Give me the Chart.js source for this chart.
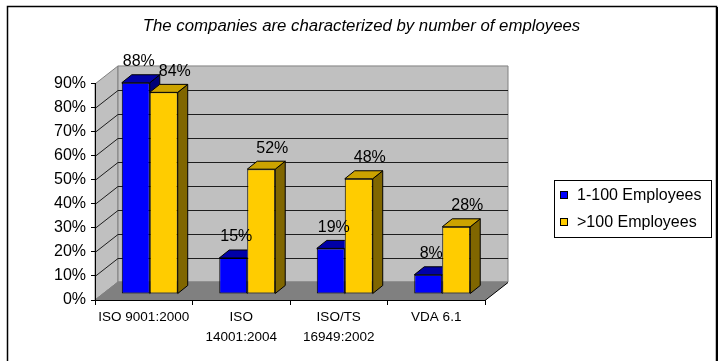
<!DOCTYPE html>
<html>
<head>
<meta charset="utf-8">
<script src="https://cdn.jsdelivr.net/npm/chart.js@4.4.0/dist/chart.umd.min.js"></script>
<style>
  html, body { margin: 0; background: #fff; }
</style>
</head>
<body>
<canvas id="chart" width="723" height="361"></canvas>
<script>
const standards = [['ISO 9001:2000'], ['ISO', '14001:2004'], ['ISO/TS', '16949:2002'], ['VDA 6.1']];
const smallFirms = [88, 15, 19, 8];
const largeFirms = [84, 52, 48, 28];
const seriesNames = ['1-100 Employees', '>100 Employees'];
const yMax = 90;
const yStep = 10;

const palette = [
    { front: '#0000ff', top: '#0000a8', side: '#000078', labelDx: 3 },
    { front: '#ffcc00', top: '#cca300', side: '#806600', labelDx: 11 }
];

const FONT = 'Liberation Sans, Arial, sans-serif';
const WALL = { x: 23, y: -18 };      // depth of the box walls
const SHIFT = { x: 6, y: -6 };       // bars stand a little behind the front edge
const BAR = { x: 10, y: -8 };        // depth of each bar

function poly(ctx, pts, fill, stroke) {
    ctx.beginPath();
    pts.forEach(([x, y], i) => i ? ctx.lineTo(x, y) : ctx.moveTo(x, y));
    ctx.closePath();
    if (fill) { ctx.fillStyle = fill; ctx.fill(); }
    if (stroke) { ctx.strokeStyle = stroke; ctx.stroke(); }
}

function line(ctx, x1, y1, x2, y2) {
    ctx.beginPath();
    ctx.moveTo(x1, y1);
    ctx.lineTo(x2, y2);
    ctx.stroke();
}

// walls, floor, frame, bar faces, value labels and legend
const box3d = {
    id: 'box3d',
    beforeDraw(chart) {
        const { ctx, chartArea: a, scales: { y } } = chart;
        const L = a.left, R = a.right;
        const B = y.getPixelForValue(0), T = y.getPixelForValue(yMax);
        const dx = WALL.x, dy = WALL.y;
        ctx.save();
        ctx.fillStyle = '#fff';
        ctx.fillRect(0, 0, chart.width, chart.height);
        ctx.strokeStyle = '#000';
        ctx.lineWidth = 1.5;
        ctx.strokeRect(7.5, 6.5, 709, 400);
        ctx.lineWidth = 1;
        line(ctx, 717.5, 7, 717.5, chart.height);

        poly(ctx, [[L, B], [L, T], [L + dx, T + dy], [L + dx, B + dy]], '#c0c0c0', '#808080');
        poly(ctx, [[L + dx, T + dy], [R + dx, T + dy], [R + dx, B + dy], [L + dx, B + dy]], '#c0c0c0', '#808080');
        poly(ctx, [[L, B], [L + dx, B + dy], [R + dx, B + dy], [R, B]], '#808080', '#808080');

        ctx.strokeStyle = '#1e1e1e';
        y.ticks.forEach(t => {
            if (t.value <= 0 || t.value >= yMax) return;
            const p = Math.round(y.getPixelForValue(t.value)) + 0.5;
            line(ctx, L, p, L + dx, p + dy);
            line(ctx, L + dx, p + dy, R + dx, p + dy);
        });
        ctx.strokeStyle = '#000';
        line(ctx, R, B + 0.5, R + dx, B + dy + 0.5);
        ctx.restore();
    },
    beforeDatasetsDraw(chart) {
        chart.ctx.save();
        chart.ctx.translate(SHIFT.x, SHIFT.y);
    },
    afterDatasetsDraw(chart) {
        const ctx = chart.ctx;
        const metas = chart.data.datasets.map((d, i) => chart.getDatasetMeta(i));
        ctx.lineWidth = 1;
        metas.forEach((meta, di) => {
            meta.data.forEach((bar, j) => {
                const { x, y, base, width } = bar.getProps(['x', 'y', 'base', 'width'], true);
                const l = x - width / 2, r = x + width / 2;
                ctx.save();
                const next = metas[di + 1] && metas[di + 1].data[j];
                if (next) {
                    // the neighbouring bar hides this bar's side face
                    const n = next.getProps(['x', 'y', 'base', 'width'], true);
                    ctx.beginPath();
                    ctx.rect(-50, -50, chart.width + 100, chart.height + 100);
                    ctx.rect(n.x - n.width / 2, n.y, n.width, n.base - n.y);
                    ctx.clip('evenodd');
                }
                poly(ctx, [[r, y], [r + BAR.x, y + BAR.y], [r + BAR.x, base + BAR.y], [r, base]], palette[di].side, '#000');
                poly(ctx, [[l, y], [l + BAR.x, y + BAR.y], [r + BAR.x, y + BAR.y], [r, y]], palette[di].top, '#000');
                ctx.restore();
            });
        });
        ctx.restore();

        ctx.save();
        ctx.font = '16px ' + FONT;
        ctx.fillStyle = '#000';
        ctx.textAlign = 'center';
        ctx.textBaseline = 'middle';
        metas.forEach((meta, di) => {
            meta.data.forEach((bar, j) => {
                const v = chart.data.datasets[di].data[j];
                ctx.fillText(v + '%', bar.x + SHIFT.x + palette[di].labelDx, bar.y + SHIFT.y - 21);
            });
        });
        ctx.restore();
    },
    afterDraw(chart) {
        const ctx = chart.ctx;
        ctx.save();
        ctx.fillStyle = '#fff';
        ctx.strokeStyle = '#000';
        ctx.lineWidth = 1;
        ctx.fillRect(554.5, 180.5, 157, 57);
        ctx.strokeRect(554.5, 180.5, 157, 57);
        ctx.font = '16px ' + FONT;
        ctx.textBaseline = 'middle';
        chart.data.datasets.forEach((d, i) => {
            const cy = 195 + i * 27;
            ctx.fillStyle = d.backgroundColor;
            ctx.fillRect(560.5, cy - 3.5, 7, 7);
            ctx.strokeRect(560.5, cy - 3.5, 7, 7);
            ctx.fillStyle = '#000';
            ctx.fillText(d.label, 577, cy + 0.5);
        });
        ctx.restore();
    }
};

Chart.defaults.color = '#000';
Chart.defaults.font.family = FONT;

new Chart(document.getElementById('chart'), {
    type: 'bar',
    data: {
        labels: standards,
        datasets: [
            { label: seriesNames[0], data: smallFirms, backgroundColor: palette[0].front },
            { label: seriesNames[1], data: largeFirms, backgroundColor: palette[1].front }
        ]
    },
    options: {
        responsive: false,
        animation: false,
        layout: { padding: 0 },
        datasets: {
            bar: {
                borderColor: '#000',
                borderWidth: 1,
                borderSkipped: false,
                categoryPercentage: 0.574,
                barPercentage: 1,
                clip: false
            }
        },
        plugins: {
            legend: { display: false },
            tooltip: { enabled: false },
            title: {
                display: true,
                text: 'The companies are characterized by number of employees',
                font: { size: 16.8, style: 'italic', weight: 'normal' },
                color: '#000',
                padding: { top: 16, bottom: 47.8 }
            }
        },
        scales: {
            x: {
                grid: { offset: true, drawOnChartArea: false, tickLength: 5, color: '#000' },
                border: { color: '#000' },
                ticks: { font: { size: 13.5, lineHeight: 1.5 }, padding: 2, maxRotation: 0 },
                afterFit: s => { s.height = 61; }
            },
            y: {
                min: 0,
                max: yMax,
                grid: { drawOnChartArea: false, tickLength: 4, color: '#000' },
                border: { color: '#000' },
                ticks: { stepSize: yStep, font: { size: 16 }, padding: 5, callback: v => v + '%' },
                afterFit: s => { s.width = 95; }
            },
            // empty strip on the right that leaves room for the legend
            side: {
                position: 'right',
                grid: { display: false },
                border: { display: false },
                ticks: { display: false },
                afterFit: s => { s.width = 238; }
            }
        }
    },
    plugins: [box3d]
});
</script>
</body>
</html>
